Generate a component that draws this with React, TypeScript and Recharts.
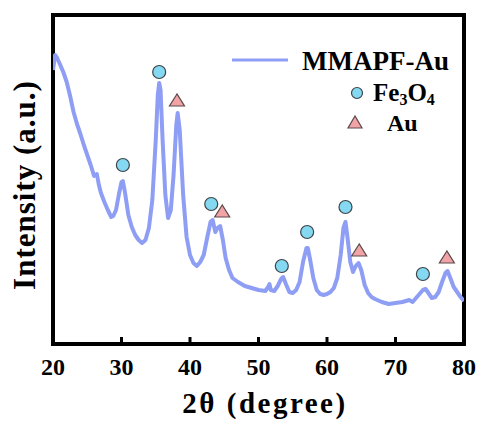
import React from "react";
import {
  ComposedChart,
  Line,
  Scatter,
  XAxis,
  YAxis,
  ReferenceArea,
  Legend,
} from "recharts";

const FONT = '"Liberation Serif", "Times New Roman", serif';
const LINE_COLOR = "#8f9ef5";

// 2θ positions (degree) and intensity (a.u.)
const twoTheta = [
  20.0, 20.3, 20.6, 21.0, 21.5, 22.0, 22.5, 23.0, 23.5, 24.0, 24.5, 25.0, 25.5, 26.0, 26.4, 26.7,
  27.0, 27.5, 28.0, 28.5, 28.8, 29.2, 29.6, 30.0, 30.2, 30.5, 31.0, 31.5, 32.0, 32.5, 33.0, 33.5,
  34.0, 34.5, 35.0, 35.3, 35.5, 35.7, 36.0, 36.4, 36.8, 37.2, 37.6, 38.0, 38.2, 38.5, 39.0, 39.5,
  40.0, 40.5, 41.0, 41.5, 42.0, 42.5, 43.0, 43.3, 43.7, 44.0, 44.4, 44.8, 45.2, 45.7, 46.2, 47.0,
  48.0, 49.0, 50.0, 51.0, 51.4, 51.6, 51.8, 52.3, 52.8, 53.3, 53.6, 54.0, 54.5, 55.0, 55.5, 56.0,
  56.5, 57.0, 57.2, 57.6, 58.0, 58.5, 59.0, 59.5, 60.0, 60.5, 61.0, 61.5, 62.0, 62.4, 62.7, 63.0,
  63.4, 63.8, 64.2, 64.6, 65.0, 65.5, 66.0, 66.5, 67.0, 68.0, 69.0, 70.0, 71.0, 72.0, 72.5, 73.0,
  73.5, 74.0, 74.4, 74.8, 75.3, 75.8, 76.3, 76.8, 77.3, 77.6, 78.0, 78.5, 79.0, 79.5, 80.0,
];

const intensity = [
  274, 289, 286, 280, 272, 262, 248, 232, 220, 210, 199, 189, 179, 168, 170, 159,
  151, 142, 134, 127, 128, 134, 149, 162, 163, 152, 129, 117, 109, 104, 101, 104,
  116, 144, 204, 249, 261, 254, 204, 149, 126, 134, 169, 219, 231, 214, 149, 107,
  89, 81, 78, 82, 89, 106, 122, 124, 112, 116, 118, 104, 86, 74, 66, 62,
  58, 56, 54, 53, 57, 60, 54, 53, 58, 65, 67, 60, 52, 51, 54, 62,
  82, 96, 96, 82, 66, 54, 50, 49, 50, 52, 56, 66, 89, 116, 122, 106,
  82, 72, 78, 81, 74, 59, 51, 47, 45, 42, 40, 41, 42, 44, 42, 46,
  50, 54, 55, 51, 46, 47, 52, 62, 71, 73, 66, 57, 52, 47, 43,
];

// reflection markers
const fe3o4X = [30.2, 35.5, 43.1, 53.4, 57.1, 62.7, 74.0];
const fe3o4Y = [179, 272, 140, 78, 112, 137, 70];
const auX = [38.1, 44.7, 64.7, 77.5];
const auY = [243, 132, 93, 86];

const xTicks = [20, 30, 40, 50, 60, 70, 80];

const pattern = twoTheta.map((x, i) => ({ x, y: intensity[i] }));
const fe3o4 = fe3o4X.map((x, i) => ({ x, y: fe3o4Y[i] }));
const au = auX.map((x, i) => ({ x, y: auY[i] }));

const CircleMark = (p: any) => (
  <circle cx={p.cx} cy={p.cy} r={6.5} fill="#84d8f2" stroke="#3d4548" strokeWidth={1.2} />
);

const TriangleMark = (p: any) => (
  <polygon
    points={`${p.cx},${p.cy - 7} ${p.cx - 7.5},${p.cy + 5} ${p.cx + 7.5},${p.cy + 5}`}
    fill="#f2a3a6"
    stroke="#5a4a4c"
    strokeWidth={1.2}
  />
);

const XTick = (p: any) => (
  <text
    x={p.x}
    y={375}
    textAnchor="middle"
    fontFamily={FONT}
    fontWeight="bold"
    fontSize={24}
    fill="#000"
  >
    {p.payload.value}
  </text>
);

const LegendBox = () => (
  <svg width={250} height={100}>
    <line x1={12} y1={20} x2={68} y2={20} stroke={LINE_COLOR} strokeWidth={3} />
    <text x={82} y={30} fontFamily={FONT} fontWeight="bold" fontSize={27} fill="#000">
      MMAPF-Au
    </text>
    <circle cx={137} cy={53} r={5.5} fill="#84d8f2" stroke="#3d4548" strokeWidth={1.2} />
    <text x={153} y={61} fontFamily={FONT} fontWeight="bold" fontSize={25} fill="#000">
      Fe
      <tspan fontSize={16} dy={4}>3</tspan>
      <tspan fontSize={25} dy={-4}>O</tspan>
      <tspan fontSize={16} dy={4}>4</tspan>
    </text>
    <polygon points="135,76 128,88 142,88" fill="#f2a3a6" stroke="#5a4a4c" strokeWidth={1.2} />
    <text x={167} y={91} fontFamily={FONT} fontWeight="bold" fontSize={24} fill="#000">
      Au
    </text>
  </svg>
);

export default function App() {
  return (
    <div style={{ position: "absolute", left: 0, top: 0, width: 482, height: 426, background: "#fff" }}>
      <ComposedChart width={482} height={426} margin={{ top: 15, right: 18, bottom: 0, left: 0 }}>
        <XAxis
          dataKey="x"
          type="number"
          domain={[20, 80]}
          ticks={xTicks}
          allowDataOverflow
          height={82}
          axisLine={false}
          tickSize={-7}
          tickLine={{ stroke: "#000", strokeWidth: 3 }}
          tick={<XTick />}
          label={() => (
            <text
              x={265}
              y={413}
              textAnchor="middle"
              fontFamily={FONT}
              fontWeight="bold"
              fontSize={29}
              letterSpacing={2.5}
              fill="#000"
            >
              2θ (degree)
            </text>
          )}
        />
        <YAxis
          type="number"
          domain={[0, 329]}
          allowDataOverflow
          width={53}
          tick={false}
          tickLine={false}
          axisLine={false}
          label={() => (
            <text
              x={35}
              y={185}
              transform="rotate(-90 35 185)"
              textAnchor="middle"
              fontFamily={FONT}
              fontWeight="bold"
              fontSize={31}
              letterSpacing={1}
              fill="#000"
            >
              Intensity (a.u.)
            </text>
          )}
        />
        <Legend
          verticalAlign="middle"
          align="center"
          layout="horizontal"
          wrapperStyle={{ top: 40, left: 220, width: 250, height: 100 }}
          content={() => <LegendBox />}
        />
        <Line
          data={pattern}
          dataKey="y"
          type="linear"
          stroke={LINE_COLOR}
          strokeWidth={4}
          strokeLinejoin="round"
          dot={false}
          activeDot={false}
          isAnimationActive={false}
        />
        <Scatter data={fe3o4} dataKey="y" shape={<CircleMark />} isAnimationActive={false} />
        <Scatter data={au} dataKey="y" shape={<TriangleMark />} isAnimationActive={false} />
        <ReferenceArea
          x1={20}
          x2={80}
          y1={0}
          y2={329}
          fill="none"
          stroke="#000"
          strokeWidth={4}
        />
      </ComposedChart>
    </div>
  );
}
